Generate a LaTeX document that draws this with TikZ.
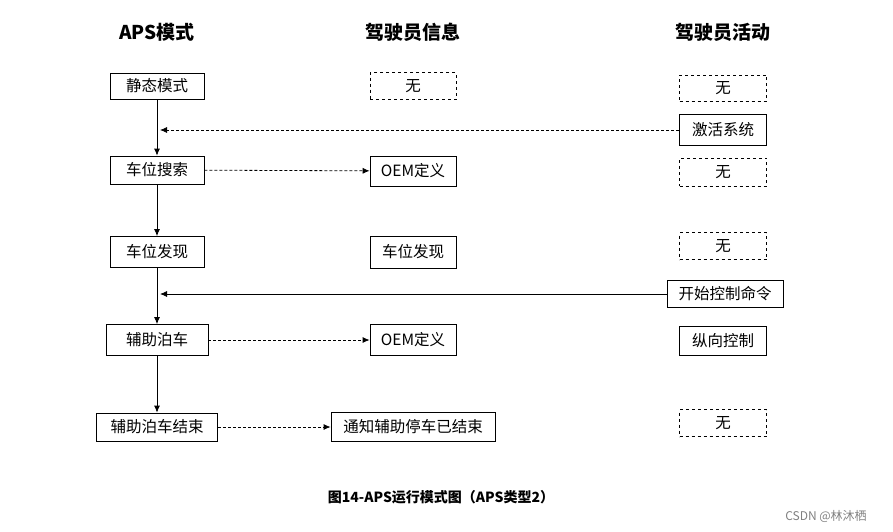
\documentclass[tikz,border=0pt]{standalone}
\usepackage{fontspec}
\setmainfont{Noto Sans CJK SC}
\usepackage{tikz}
\usetikzlibrary{arrows.meta, calc}

\tikzset{
    modebox/.style={draw, thick, minimum height=28pt, inner sep=2pt, font=\fontsize{15.5}{17}\selectfont},
    emptybox/.style={modebox, dashed, minimum width=87pt, minimum height=27pt},
    head/.style={font=\fontsize{19}{22}\selectfont\bfseries},
    flow/.style={->, thick},
    hint/.style={->, thick, densely dashed}
}

\begin{document}
\begin{tikzpicture}[x=1pt, y=-1pt, >={Latex[length=7pt,width=6pt]}]
    \useasboundingbox (0,0) rectangle (893,531);
    % column heads
    \node[head] (h1) at (157,32) {APS模式};
    \node[head] (h2) at (413,32) {驾驶员信息};
    \node[head] (h3) at (723,32) {驾驶员活动};
    % APS modes
    \node[modebox, minimum width=94pt, minimum height=26pt] (m1) at (157,86) {静态模式};
    \node[modebox, minimum width=94pt] (m2) at (157,170) {车位搜索};
    \node[modebox, minimum width=94pt, minimum height=31pt] (m3) at (157,252) {车位发现};
    \node[modebox, minimum width=102pt, minimum height=31pt] (m4) at (157,340) {辅助泊车};
    \node[modebox, minimum width=121pt] (m5) at (157,427) {辅助泊车结束};
    % driver info
    \node[emptybox, minimum width=86pt] (i1) at (413,86) {无};
    \node[modebox, minimum width=86pt, minimum height=30pt] (i2) at (413,171) {OEM定义};
    \node[modebox, minimum width=86pt, minimum height=32pt] (i3) at (413,252) {车位发现};
    \node[modebox, minimum width=86pt, minimum height=31pt] (i4) at (413,340) {OEM定义};
    \node[modebox, minimum width=164pt, minimum height=29pt] (i5) at (413,427) {通知辅助停车已结束};
    % driver activity
    \node[emptybox, minimum height=26pt] (a1) at (723,88) {无};
    \node[modebox, minimum width=87pt, minimum height=31pt] (a2) at (723,130) {激活系统};
    \node[emptybox, minimum height=28pt] (a3) at (723,172) {无};
    \node[emptybox] (a4) at (723,246) {无};
    \node[modebox, minimum width=116pt, minimum height=27pt] (a5) at (725,294) {开始控制命令};
    \node[modebox, minimum width=87pt, minimum height=29pt] (a6) at (723,341) {纵向控制};
    \node[emptybox] (a7) at (723,423) {无};
    % connectors
    \draw[flow] (m1) -- (m2);
    \draw[flow] (m2) -- (m3);
    \draw[flow] (m3) -- (m4);
    \draw[flow] (m4) -- (m5);
    \draw[hint] (m2) -- (i2);
    \draw[hint] (m4) -- (i4);
    \draw[hint] (m5) -- (i5);
    \coordinate (j1) at (160,130);
    \coordinate (j2) at (160,294);
    \draw[hint] (a2) -- (j1);
    \draw[flow] (a5) -- (j2);
    % caption
    \node[font=\fontsize{14}{16}\selectfont\bfseries] (cap) at (441,497) {图14-APS运行模式图（APS类型2）};
    \node[font=\fontsize{12}{14}\selectfont, text=gray] (mark) at (826,516) {CSDN @林沐栖};
\end{tikzpicture}
\end{document}
